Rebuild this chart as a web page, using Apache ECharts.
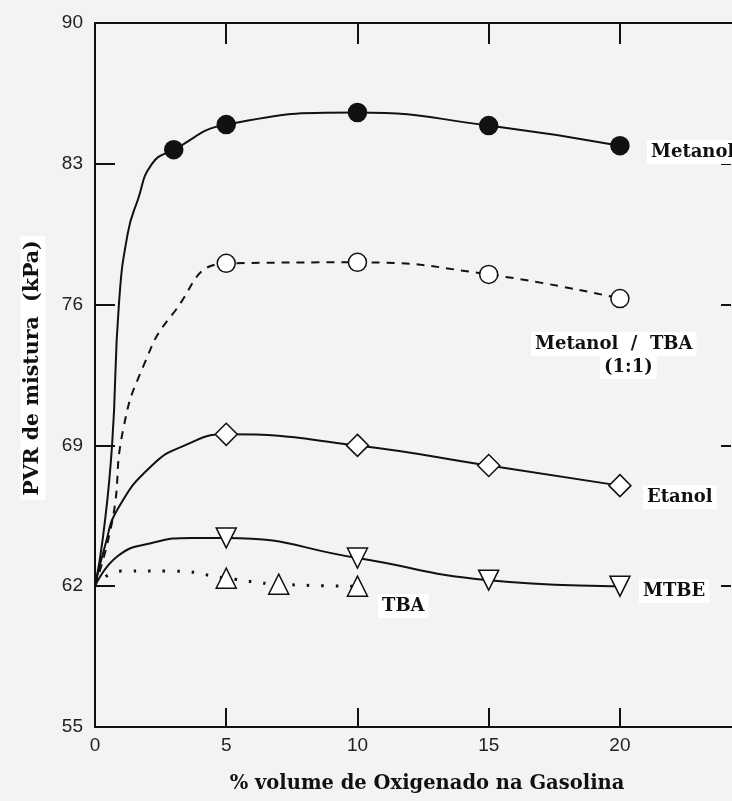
<!DOCTYPE html>
<html><head><meta charset="utf-8">
<script src="https://cdn.jsdelivr.net/npm/echarts@6/dist/echarts.min.js"></script>
<style>html,body{margin:0;padding:0;background:#f3f3f5}#c{width:732px;height:801px}</style>
</head><body><div id="c"></div>
<script>
// ---- data ----
const seriesNames = ['Metanol', 'Metanol / TBA', 'Etanol', 'MTBE', 'TBA'];
const xTickValues = [5, 10, 15, 20];
const xLabelValues = [0, 5, 10, 15, 20];
const yTickValues = [62, 69, 76, 83];
const yLabelValues = [55, 62, 69, 76, 83, 90];

const metanolX = [0, 0.3, 0.65, 0.91, 1.25, 1.63, 2.17, 3, 5, 10, 15, 20];
const metanolY = [62, 64.4, 69.0, 76.0, 79.55, 81.2, 83.0, 83.7, 84.95, 85.55, 84.9, 83.9];
const metanolMarkedX = [3, 5, 10, 15, 20];

const metTbaX = [0, 0.68, 1.06, 1.83, 2.97, 5, 10, 15, 20];
const metTbaY = [62, 65.4, 69.7, 72.9, 75.55, 78.05, 78.1, 77.5, 76.3];
const metTbaMarkedX = [5, 10, 15, 20];

const etanolX = [0, 0.38, 0.87, 2.17, 3.42, 5, 10, 15, 20];
const etanolY = [62, 64.0, 65.85, 68.0, 69.0, 69.55, 69.0, 68.0, 67.0];
const etanolMarkedX = [5, 10, 15, 20];

const mtbeX = [0, 0.87, 2.17, 3.7, 5, 10, 15, 20];
const mtbeY = [62, 63.5, 64.15, 64.4, 64.4, 63.4, 62.3, 62.0];
const mtbeMarkedX = [5, 10, 15, 20];

const tbaX = [0, 1, 3, 5, 7, 10];
const tbaY = [62, 62.75, 62.75, 62.4, 62.1, 62.0];
const tbaMarkedX = [5, 7, 10];

// ---- chart ----
function build(xs, ys, marked) {
  return xs.map((x, i) => marked.indexOf(x) >= 0 ? [x, ys[i]] : { value: [x, ys[i]], symbol: 'none' });
}
const serif = '"DejaVu Serif", "Liberation Serif", serif';
const sans = '"Liberation Sans", Arial, sans-serif';
const axisLine = { show: true, lineStyle: { color: '#111', width: 2 } };
const X_MAX = 24.27;

const chart = echarts.init(document.getElementById('c'), null, { renderer: 'canvas' });
const mk = (name, data, symbol, fill, lineType, extra) => Object.assign({
  name, type: 'line', data, symbol, symbolSize: 18, smooth: 0.5,
  showSymbol: true, animation: false, z: 3,
  itemStyle: { color: fill, borderColor: '#111', borderWidth: 1.5 },
  lineStyle: { color: '#111', width: 2, type: lineType }
}, extra || {});

const labelStyle = { fill: '#111', font: 'bold 18px ' + serif, backgroundColor: '#fff', padding: [3, 4] };

chart.setOption({
  backgroundColor: '#f3f3f5',
  animation: false,
  grid: { left: 95, top: 23, right: 0, bottom: 74, outerBoundsMode: 'none', containLabel: false },
  xAxis: [
    { type: 'value', min: 0, max: X_MAX, position: 'bottom',
      axisLine, splitLine: { show: false },
      axisTick: { show: true, inside: true, length: 19, customValues: xTickValues, lineStyle: { color: '#111', width: 2 } },
      axisLabel: { customValues: xLabelValues, color: '#222', fontFamily: sans, fontSize: 19, margin: 9 } },
    { type: 'value', min: 0, max: X_MAX, position: 'top',
      axisLine, splitLine: { show: false },
      axisTick: { show: true, inside: true, length: 21, customValues: xTickValues, lineStyle: { color: '#111', width: 2 } },
      axisLabel: { show: false } }
  ],
  yAxis: [
    { type: 'value', min: 55, max: 90, interval: 7, position: 'left',
      axisLine, splitLine: { show: false },
      axisTick: { show: true, inside: true, length: 20, customValues: yTickValues, lineStyle: { color: '#111', width: 2 } },
      axisLabel: { customValues: yLabelValues, color: '#222', fontFamily: sans, fontSize: 19, margin: 12 } },
    { type: 'value', min: 55, max: 90, interval: 7, position: 'left', offset: -636,
      axisLine: { show: false }, splitLine: { show: false },
      axisTick: { show: true, inside: false, length: 10, customValues: yTickValues, lineStyle: { color: '#111', width: 2 } },
      axisLabel: { show: false } }
  ],
  series: [
    mk(seriesNames[0], build(metanolX, metanolY, metanolMarkedX), 'circle', '#111', 'solid'),
    mk(seriesNames[1], build(metTbaX, metTbaY, metTbaMarkedX), 'circle', '#fff', [8, 7]),
    mk(seriesNames[2], build(etanolX, etanolY, etanolMarkedX), 'diamond', '#fff', 'solid', { symbolSize: 22 }),
    mk(seriesNames[3], build(mtbeX, mtbeY, mtbeMarkedX), 'triangle', '#fff', 'solid', { symbolRotate: 180, symbolSize: 20 }),
    mk(seriesNames[4], build(tbaX, tbaY, tbaMarkedX), 'triangle', '#fff', [2.5, 12], { symbolSize: 20, lineStyle: { color: '#111', width: 3, type: [2.5, 12] } })
  ],
  graphic: [
    { type: 'text', left: 647, top: 140, z: 10, style: Object.assign({ text: seriesNames[0] }, labelStyle) },
    { type: 'text', left: 531, top: 332, z: 10, style: Object.assign({ text: 'Metanol  /  TBA' }, labelStyle) },
    { type: 'text', left: 600, top: 355, z: 10, style: Object.assign({ text: '(1:1)' }, labelStyle) },
    { type: 'text', left: 643, top: 485, z: 10, style: Object.assign({ text: seriesNames[2] }, labelStyle) },
    { type: 'text', left: 639, top: 579, z: 10, style: Object.assign({ text: seriesNames[3] }, labelStyle) },
    { type: 'text', left: 378, top: 594, z: 10, style: Object.assign({ text: seriesNames[4] }, labelStyle) },
    { type: 'text', x: 427, y: 784, z: 10, style: { text: '% volume de Oxigenado na Gasolina', fill: '#111', font: 'bold 19.5px ' + serif, align: 'center', verticalAlign: 'middle' } },
    { type: 'text', x: 33, y: 368, rotation: Math.PI / 2, z: 10, style: { text: 'PVR de mistura  (kPa)', fill: '#111', font: 'bold 20.5px ' + serif, align: 'center', verticalAlign: 'middle', backgroundColor: '#fff', padding: [2, 4] } }
  ]
});
</script></body></html>
